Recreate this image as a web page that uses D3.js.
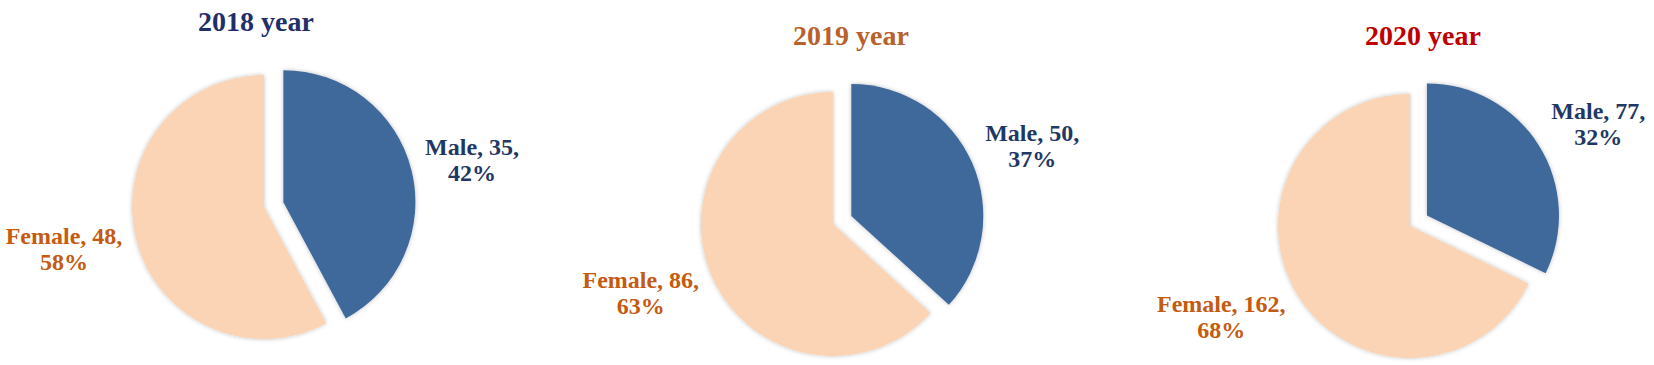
<!DOCTYPE html>
<html>
<head>
<meta charset="utf-8">
<script src="https://cdn.jsdelivr.net/npm/d3@7"></script>
<style>
  html, body { margin: 0; padding: 0; background: #ffffff; }
  svg { display: block; }
  text { font-family: "Liberation Serif", "Times New Roman", serif; font-weight: bold; }
</style>
</head>
<body>
<svg id="chart" width="1654" height="365"></svg>
<script>
// ---- data ----
const years = ["2018 year", "2019 year", "2020 year"];
const categories = ["Male", "Female"];
const maleCounts = [35, 50, 77];
const femaleCounts = [48, 86, 162];

// ---- layout & style (not data) ----
const panels = [
  { cx: 264,  cy: 207, tx: 256,  ty: 31 },
  { cx: 833,  cy: 224, tx: 851,  ty: 45 },
  { cx: 1410, cy: 226, tx: 1423, ty: 45 }
];
const titleColors = ["#1F2F6A", "#B8612D", "#C00000"];
const fillColor = d3.scaleOrdinal().domain(categories).range(["#40699B", "#FAD4B4"]);
const labelColor = d3.scaleOrdinal().domain(categories).range(["#1F3864", "#C55A11"]);
const R = 132, EXPLODE = 20, LINE = 26, FONT = 24;

const svg = d3.select("#chart");
const defs = svg.append("defs");
const f = defs.append("filter").attr("id", "soft").attr("x", "-10%").attr("y", "-10%").attr("width", "120%").attr("height", "120%");
f.append("feDropShadow").attr("dx", 0).attr("dy", 0).attr("stdDeviation", 2)
  .attr("flood-color", "#000").attr("flood-opacity", 0.25);

const pie = d3.pie().sort(null).value(d => d.value).startAngle(0).endAngle(2 * Math.PI);
const arc = d3.arc().innerRadius(0).outerRadius(R);

years.forEach((year, i) => {
  const p = panels[i];
  const data = [
    { cat: "Male", value: maleCounts[i] },
    { cat: "Female", value: femaleCounts[i] }
  ];
  const total = d3.sum(data, d => d.value);
  const arcs = pie(data);
  const g = svg.append("g").attr("transform", `translate(${p.cx},${p.cy})`);

  arcs.forEach(a => {
    const mid = (a.startAngle + a.endAngle) / 2;
    const dx = Math.sin(mid), dy = -Math.cos(mid);
    const off = a.data.cat === "Male" ? EXPLODE : 0;
    const ox = dx * off, oy = dy * off;
    g.append("path")
      .attr("d", arc(a))
      .attr("transform", `translate(${ox},${oy})`)
      .attr("fill", fillColor(a.data.cat))
      .attr("filter", "url(#soft)");

    // label: outside end, placed beside the arc
    const pct = Math.round(a.data.value / total * 100) + "%";
    const t = g.append("text")
      .attr("text-anchor", "middle")
      .attr("fill", labelColor(a.data.cat))
      .attr("font-size", FONT);
    const l1 = t.append("tspan").text(`${a.data.cat}, ${a.data.value},`);
    const l2 = t.append("tspan").text(pct);
    const hw = Math.max(l1.node().getComputedTextLength(), l2.node().getComputedTextLength()) / 2;
    const vx = ox + dx * (R + 10) + Math.sign(dx) * (hw + 4);
    const vy = oy + dy * (R + 10) + dy * 30 + 8;
    l1.attr("x", vx).attr("y", vy - LINE / 2);
    l2.attr("x", vx).attr("y", vy + LINE / 2);
  });

  svg.append("text")
    .attr("x", p.tx).attr("y", p.ty)
    .attr("text-anchor", "middle")
    .attr("font-size", 28)
    .attr("fill", titleColors[i])
    .text(year);
});
</script>
</body>
</html>
